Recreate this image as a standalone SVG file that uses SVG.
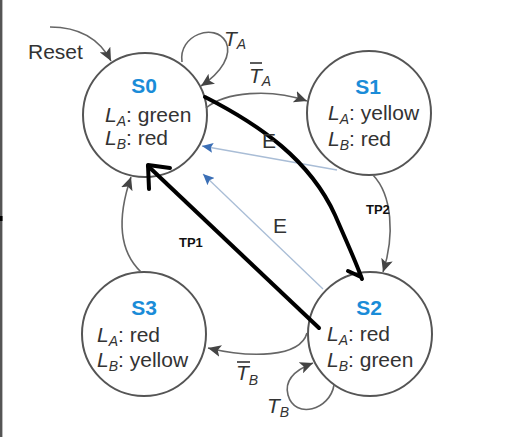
<svg xmlns="http://www.w3.org/2000/svg" width="507" height="437" viewBox="0 0 507 437">
<defs>
<style>
.st{fill:#fff;stroke:#555;stroke-width:2}
.nm{font-family:"Liberation Sans",Arial,sans-serif;font-size:21px;font-weight:bold;fill:#1a8cd8;text-anchor:middle}
.tx{font-family:"Liberation Sans",Arial,sans-serif;font-size:21px;fill:#333}
.it{font-style:italic}
.sub{font-style:italic;font-size:14px}
.cn{fill:none;stroke:#666;stroke-width:1.6}
.bl{fill:none;stroke:#a9bdd6;stroke-width:1.3}
.bk{fill:none;stroke:#000;stroke-width:4;stroke-linecap:round;stroke-linejoin:round}
.tp{font-family:"Liberation Sans",Arial,sans-serif;font-size:13px;font-weight:bold;fill:#111}
</style>
<marker id="ah" markerUnits="userSpaceOnUse" markerWidth="14" markerHeight="12" refX="13" refY="6" orient="auto">
<path d="M0,0 L13,6 L0,12 L3,6 z" fill="#444"/>
</marker>
<marker id="ab" markerUnits="userSpaceOnUse" markerWidth="12" markerHeight="10" refX="11" refY="5" orient="auto">
<path d="M0,0 L11,5 L0,10 L2,5 z" fill="#3b6fb6"/>
</marker>
</defs>
<rect width="507" height="437" fill="#fff"/>
<line x1="1.2" y1="0" x2="1.2" y2="437" stroke="#555" stroke-width="2.4"/>
<rect x="0" y="216" width="2.5" height="5" fill="#000"/>

<g id="S0">
<circle class="st" cx="145" cy="115" r="62"/>
<text class="nm" x="144" y="93">S0</text>
<text class="tx" x="105" y="122"><tspan class="it">L</tspan><tspan class="sub" dy="4">A</tspan><tspan dy="-4">: green</tspan></text>
<text class="tx" x="105" y="145"><tspan class="it">L</tspan><tspan class="sub" dy="4">B</tspan><tspan dy="-4">: red</tspan></text>
</g>
<g id="S1">
<circle class="st" cx="369" cy="113" r="62"/>
<text class="nm" x="368" y="94">S1</text>
<text class="tx" x="328" y="120"><tspan class="it">L</tspan><tspan class="sub" dy="4">A</tspan><tspan dy="-4">: yellow</tspan></text>
<text class="tx" x="328" y="146"><tspan class="it">L</tspan><tspan class="sub" dy="4">B</tspan><tspan dy="-4">: red</tspan></text>
</g>
<g id="S3">
<circle class="st" cx="144" cy="334" r="62"/>
<text class="nm" x="144" y="315">S3</text>
<text class="tx" x="97" y="342"><tspan class="it">L</tspan><tspan class="sub" dy="4">A</tspan><tspan dy="-4">: red</tspan></text>
<text class="tx" x="97" y="367"><tspan class="it">L</tspan><tspan class="sub" dy="4">B</tspan><tspan dy="-4">: yellow</tspan></text>
</g>
<g id="S2">
<circle class="st" cx="370" cy="334" r="62"/>
<text class="nm" x="369" y="315">S2</text>
<text class="tx" x="327" y="341"><tspan class="it">L</tspan><tspan class="sub" dy="4">A</tspan><tspan dy="-4">: red</tspan></text>
<text class="tx" x="327" y="367"><tspan class="it">L</tspan><tspan class="sub" dy="4">B</tspan><tspan dy="-4">: green</tspan></text>
</g>

<g id="connectors">
<path class="cn" d="M50 27 C80 27,100 40,111 61" marker-end="url(#ah)"/>
<path class="cn" d="M182 62 C178 35,215 22,226 42 C232 55,222 72,201 86" marker-end="url(#ah)"/>
<path class="cn" d="M206 108 C225 92,270 88,307 101" marker-end="url(#ah)"/>
<path class="cn" d="M373 175 C392 195,395 235,383 272" marker-end="url(#ah)"/>
<path class="cn" d="M307 333 C300 358,250 358,208 348" marker-end="url(#ah)"/>
<path class="cn" d="M334 385 C330 410,295 420,288 395 C284 380,295 370,313 363" marker-end="url(#ah)"/>
<path class="cn" d="M141 272 C118 250,118 215,131 177" marker-end="url(#ah)"/>
<path class="bl" d="M337 170 L202 146" marker-end="url(#ab)"/>
<path class="bl" d="M323 289 L203 174" marker-end="url(#ab)"/>
<path class="bk" d="M205 97 C260 125,310 160,335 215 C348 245,356 262,362 279"/>
<path class="bk" d="M348 271 L361 277"/>
<path class="bk" d="M319 328 L148 166"/>
<path class="bk" d="M170 168 L148 165 L149 189"/>
<text class="tx" x="28" y="59">Reset</text>
<text class="tx" x="224" y="46"><tspan class="it">T</tspan><tspan class="sub" dy="3">A</tspan></text>
<text class="tx" x="249" y="83"><tspan class="it">T</tspan><tspan class="sub" dy="3">A</tspan></text>
<line x1="250" y1="63" x2="262" y2="63" stroke="#333" stroke-width="1.6"/>
<text class="tx" x="236" y="380"><tspan class="it">T</tspan><tspan class="sub" dy="5">B</tspan></text>
<line x1="237" y1="362" x2="250" y2="362" stroke="#333" stroke-width="1.6"/>
<text class="tx" x="267" y="413"><tspan class="it">T</tspan><tspan class="sub" dy="4">B</tspan></text>
<text class="tx" x="262" y="148">E</text>
<text class="tx" x="273" y="233">E</text>
<text class="tp" x="179" y="247">TP1</text>
<text class="tp" x="366" y="214">TP2</text>
</g>
</svg>
